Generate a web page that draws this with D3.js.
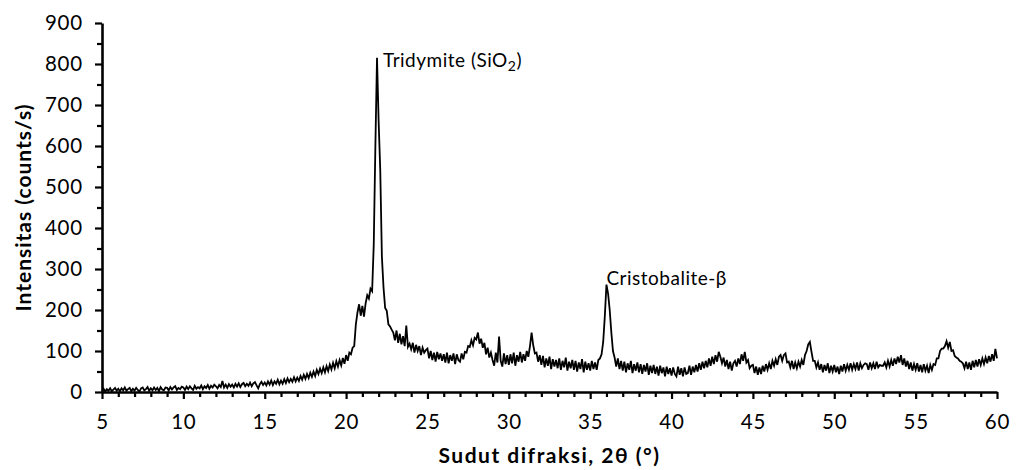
<!DOCTYPE html>
<html>
<head>
<meta charset="utf-8">
<script src="https://cdnjs.cloudflare.com/ajax/libs/d3/7.8.5/d3.min.js"></script>
<style>
  html, body { margin: 0; padding: 0; background: #fff; }
  svg { display: block; }
</style>
</head>
<body>
<svg id="chart"></svg>
<script>
// XRD pattern, 2theta from 5 to 60 deg in 0.1 deg steps
const twoThetaStart = 5;
const twoThetaStep = 0.1;
const intensity = [
  2, 8, 1, 7, 3, 9, 2, 6, 10, 3,           // 5
  8, 2, 9, 4, 11, 3, 7, 10, 2, 8,          // 6
  3, 10, 5, 1, 9, 11, 4, 7, 12, 3,         // 7
  9, 4, 11, 5, 10, 2, 12, 6, 4, 11,        // 8
  10, 4, 12, 6, 11, 14, 5, 10, 7, 13,      // 9
  11, 5, 13, 7, 14, 9, 5, 15, 8, 12,       // 10
  9, 16, 7, 14, 10, 17, 8, 15, 11, 18,     // 11
  14, 9, 17, 12, 27, 11, 18, 10, 19, 13,   // 12
  18, 11, 20, 13, 21, 12, 19, 22, 14, 20,  // 13
  15, 23, 14, 21, 24, 16, 9, 19, 25, 17,   // 14
  23, 16, 26, 18, 28, 17, 26, 20, 30, 19,  // 15
  28, 20, 31, 22, 33, 24, 32, 25, 36, 26,  // 16
  35, 27, 39, 30, 42, 32, 44, 34, 47, 37,  // 17
  50, 39, 54, 44, 57, 46, 60, 48, 63, 51,  // 18
  67, 55, 71, 58, 75, 62, 78, 65, 83, 69,  // 19
  90, 76, 96, 92, 108, 112, 165, 194, 214, 186,     // 20
  210, 184, 216, 236, 228, 252, 246, 360, 600, 815, // 21
  660, 540, 330, 255, 205, 198, 165, 160, 152, 145, // 22
  126, 150, 120, 142, 116, 136, 112, 162, 110, 118, // 23
  104, 120, 96, 115, 100, 112, 90, 108, 96, 102,    // 24
  106, 82, 100, 78, 96, 74, 98, 80, 94, 76,         // 25
  92, 72, 96, 70, 90, 76, 94, 68, 92, 78,           // 26
  74, 94, 80, 98, 96, 112, 110, 126, 114, 132,      // 27
  128, 145, 118, 130, 108, 120, 92, 108, 84, 96,    // 28
  78, 64, 96, 72, 135, 76, 62, 94, 68, 90,          // 29
  66, 92, 70, 96, 64, 90, 74, 98, 72, 92,           // 30
  76, 100, 86, 112, 145, 114, 94, 96, 74, 90,       // 31
  66, 88, 60, 82, 64, 86, 56, 80, 62, 78,           // 32
  58, 82, 54, 76, 60, 84, 52, 74, 58, 78,           // 33
  54, 76, 50, 72, 56, 80, 48, 74, 54, 70,           // 34
  52, 76, 56, 72, 54, 78, 82, 92, 122, 185,         // 35
  262, 240, 200, 145, 100, 84, 62, 82, 56, 76,      // 36
  52, 74, 48, 70, 54, 76, 46, 68, 52, 72,           // 37
  48, 68, 44, 66, 50, 70, 42, 64, 46, 66,           // 38
  44, 62, 40, 64, 46, 60, 38, 62, 44, 58,           // 39
  40, 60, 44, 38, 62, 42, 58, 38, 60, 44,           // 40
  46, 64, 42, 62, 48, 66, 50, 70, 54, 74,           // 41
  58, 76, 60, 82, 64, 86, 68, 90, 74, 98,           // 42
  86, 70, 84, 62, 78, 56, 74, 52, 70, 76,           // 43
  62, 82, 68, 92, 76, 98, 72, 78, 58, 64,           // 44
  66, 46, 62, 42, 60, 44, 64, 50, 68, 54,           // 45
  70, 56, 76, 64, 80, 66, 86, 90, 76, 90,           // 46
  94, 72, 74, 60, 76, 56, 72, 58, 74, 62,           // 47
  78, 66, 90, 100, 116, 122, 98, 76, 76, 60,        // 48
  72, 54, 68, 48, 66, 52, 70, 46, 64, 50,           // 49
  66, 48, 62, 44, 64, 50, 68, 52, 66, 54,           // 50
  70, 54, 68, 56, 72, 52, 70, 58, 66, 70,           // 51
  68, 54, 72, 58, 70, 56, 74, 60, 66, 64,           // 52
  64, 72, 60, 76, 62, 78, 64, 82, 68, 86,           // 53
  72, 90, 66, 82, 62, 76, 56, 72, 52, 68,           // 54
  54, 70, 50, 66, 48, 68, 52, 64, 46, 66,           // 55
  54, 68, 66, 82, 82, 100, 106, 106, 112, 124,      // 56
  108, 122, 100, 102, 88, 84, 82, 76, 74, 70,       // 57
  58, 74, 56, 72, 54, 76, 60, 78, 62, 80,           // 58
  66, 82, 68, 84, 70, 88, 74, 92, 76, 105,          // 59
  82                                                // 60
];

const xTickValues = [5, 10, 15, 20, 25, 30, 35, 40, 45, 50, 55, 60];
const yTickValues = [0, 100, 200, 300, 400, 500, 600, 700, 800, 900];

const peakNames = ['Tridymite (SiO', 'Cristobalite-\u03B2'];
const peakSubscripts = ['2', ''];
const peakSuffixes = [')', ''];
const peakAngles = [21.9, 36.0];
const peakHeights = [815, 262];

const xTitle = 'Sudut difraksi, 2\u03B8 (\u00B0)';
const yTitle = 'Intensitas (counts/s)';

const width = 1016;
const height = 470;
const margin = { top: 23, right: 19, bottom: 78, left: 102 };
const fontFamily = 'Lato, "Open Sans", sans-serif';

const svg = d3.select('#chart')
  .attr('width', width)
  .attr('height', height);

const points = intensity.map((v, i) => ({
  x: +(twoThetaStart + i * twoThetaStep).toFixed(2),
  y: v,
}));

const x = d3.scaleLinear()
  .domain([5, 60])
  .range([margin.left, width - margin.right]);

const y = d3.scaleLinear()
  .domain([0, 900])
  .range([height - margin.bottom, margin.top]);

// minor ticks first so the major axis draws on top
const xMinor = d3.range(5, 61, 1).filter((d) => d % 5 !== 0);
const yMinor = d3.range(50, 900, 100);

svg.append('g')
  .attr('transform', `translate(0,${y(0)})`)
  .call(d3.axisBottom(x).tickValues(xMinor).tickSize(5).tickFormat(''))
  .call((g) => g.select('.domain').remove())
  .call((g) => g.selectAll('line').attr('stroke', '#000').attr('stroke-width', 2.2));

svg.append('g')
  .attr('transform', `translate(${x(5)},0)`)
  .call(d3.axisLeft(y).tickValues(yMinor).tickSize(5).tickFormat(''))
  .call((g) => g.select('.domain').remove())
  .call((g) => g.selectAll('line').attr('stroke', '#000').attr('stroke-width', 2.2));

const xAxis = svg.append('g')
  .attr('transform', `translate(0,${y(0)})`)
  .call(d3.axisBottom(x).tickValues(xTickValues).tickSize(7).tickSizeOuter(0).tickPadding(15));

const yAxis = svg.append('g')
  .attr('transform', `translate(${x(5)},0)`)
  .call(d3.axisLeft(y).tickValues(yTickValues).tickSize(7).tickSizeOuter(0).tickPadding(12));

[xAxis, yAxis].forEach((g) => {
  g.attr('font-family', fontFamily).attr('font-size', 20.5);
  g.select('.domain').attr('stroke', '#000').attr('stroke-width', 2.6);
  g.selectAll('line').attr('stroke', '#000').attr('stroke-width', 2.2);
  g.selectAll('text').attr('fill', '#000').style('letter-spacing', '0.8px');
});

// diffraction trace
const line = d3.line()
  .x((d) => x(d.x))
  .y((d) => y(d.y));

svg.append('path')
  .datum(points)
  .attr('fill', 'none')
  .attr('stroke', '#000')
  .attr('stroke-width', 1.8)
  .attr('d', line);

// peak labels
const labelOffsets = [[6, 9], [0, 0]];
peakNames.forEach((name, i) => {
  const t = svg.append('text')
    .attr('x', x(peakAngles[i]) + labelOffsets[i][0])
    .attr('y', y(peakHeights[i]) + labelOffsets[i][1])
    .attr('font-family', fontFamily)
    .attr('font-size', 19)
    .attr('fill', '#000')
    .style('letter-spacing', '0.5px')
    .text(name);
  if (peakSubscripts[i]) {
    t.append('tspan')
      .attr('font-size', 14)
      .attr('dy', 4)
      .text(peakSubscripts[i]);
    t.append('tspan')
      .attr('dy', -4)
      .text(peakSuffixes[i]);
  }
});

// axis titles
svg.append('text')
  .attr('x', (x(5) + x(60)) / 2)
  .attr('y', 463)
  .attr('text-anchor', 'middle')
  .attr('font-family', fontFamily)
  .attr('font-weight', 'bold')
  .attr('font-size', 21)
  .attr('fill', '#000')
  .style('letter-spacing', '1.5px')
  .text(xTitle);

svg.append('text')
  .attr('transform', `translate(31,${(y(0) + y(900)) / 2}) rotate(-90)`)
  .attr('text-anchor', 'middle')
  .attr('font-family', fontFamily)
  .attr('font-weight', 'bold')
  .attr('font-size', 21)
  .attr('fill', '#000')
  .style('letter-spacing', '1px')
  .text(yTitle);
</script>
</body>
</html>
